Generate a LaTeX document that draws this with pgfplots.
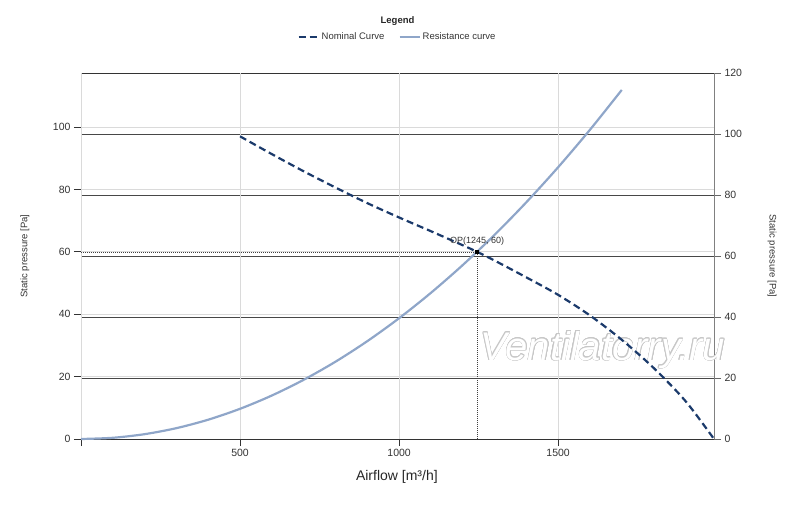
\documentclass[border=0pt]{standalone}
\usepackage{pgfplots}
\pgfplotsset{compat=1.18}
\usepackage{fontspec}
\setmainfont{Liberation Sans}
\usepackage{contour}
\contourlength{0.5pt}
\definecolor{navy}{HTML}{1B3A6B}
\definecolor{steel}{HTML}{8FA6C9}
\definecolor{lgrid}{HTML}{DADADA}
\begin{document}
\begin{tikzpicture}
\useasboundingbox (0,0) rectangle (800pt,507pt);
% right axis (dark grid)
\begin{axis}[
  at={(81pt,68pt)}, anchor=south west,
  scale only axis, width=633pt, height=366pt,
  xmin=0, xmax=1990, ymin=0, ymax=120,
  axis x line*=top, axis y line*=right,
  xtick=\empty,
  ytick={0,20,...,120},
  ymajorgrids,
  major grid style={black!72, line width=0.7pt},
  tick align=outside, major tick length=7pt,
  tick style={black!60, line width=0.6pt},
  x axis line style={black!80, line width=0.8pt},
  y axis line style={black!50, line width=1pt},
  /pgf/number format/assume math mode=true,
  yticklabel style={font=\fontsize{10.5}{12}\selectfont, text=black!80},
]
\end{axis}
% left axis with curves
\begin{axis}[
  at={(81pt,68pt)}, anchor=south west,
  scale only axis, width=633pt, height=366pt,
  xmin=0, xmax=1990, ymin=0, ymax=117.3,
  axis x line*=bottom, axis y line*=left,
  xtick={500,1000,1500},
  extra x ticks={0}, extra x tick labels={},
  ytick={0,20,...,100},
  xmajorgrids, ymajorgrids,
  major grid style={lgrid, line width=0.6pt},
  tick align=outside, major tick length=7pt,
  tick style={black!80, line width=0.6pt},
  axis line style={black!80, line width=0.8pt},
  /pgf/number format/assume math mode=true,
  /pgf/number format/1000 sep={},
  ticklabel style={font=\fontsize{10.5}{12}\selectfont, text=black!80},
  clip=false,
  legend style={at={(axis description cs:0.5,1.098)}, anchor=center, draw=none, fill=none,
    font=\fontsize{9.5}{11}\selectfont, text=black!80, legend columns=2,
    /tikz/every even column/.append style={column sep=12pt}},
  legend image code/.code={\draw[#1] (0pt,0pt) -- (20pt,0pt);},
]
\node at (axis cs:1640,28.5) {\fontsize{40}{44}\selectfont\itshape\contour{black!22}{\textcolor{white}{Ventilatorry.ru}}};
\addplot[navy, line width=2.2pt, dash pattern=on 7pt off 4pt, smooth] coordinates {
 (500,97) (600,91.3) (700,85.8) (800,80.6) (900,75.6) (1000,71.0) (1100,66.6)
 (1200,62.1) (1245,60) (1300,57.2) (1400,51.8) (1500,46.2) (1600,39.6)
 (1700,31.8) (1800,22.8) (1900,12.2) (1990,0)};
\addlegendentry{Nominal Curve}
\addplot[steel, line width=2.2pt, smooth] coordinates {
 (0,0) (100,0.39) (200,1.55) (300,3.48) (400,6.19) (500,9.68) (600,13.94)
 (700,18.97) (800,24.77) (900,31.35) (1000,38.71) (1100,46.84) (1200,55.74)
 (1300,65.42) (1400,75.87) (1500,87.10) (1600,99.10) (1700,111.87)};
\addlegendentry{Resistance curve}
\addplot[black!75, dash pattern=on 1pt off 1pt, line width=0.4pt, forget plot] coordinates {(0,60) (1245,60) (1245,0)};
\addplot[only marks, mark=square*, mark size=1.5pt, black, forget plot] coordinates {(1245,60)};
\node[above=3pt, font=\fontsize{9}{10}\selectfont, text=black!80] at (axis cs:1245,60) {OP(1245, 60)};
\node[font=\fontsize{9.5}{11}\selectfont\bfseries, text=black!85] at (axis description cs:0.5,1.142) {Legend};
\node[rotate=90, font=\fontsize{9.5}{11}\selectfont, text=black!80] at (axis description cs:-0.0885,0.5) {Static pressure [Pa]};
\node[rotate=-90, font=\fontsize{9.5}{11}\selectfont, text=black!80] at (axis description cs:1.0916,0.5) {Static pressure [Pa]};
\node[font=\fontsize{14}{16}\selectfont, text=black!85] at (axis description cs:0.499,-0.104) {Airflow [m³/h]};
\end{axis}
\end{tikzpicture}
\end{document}
